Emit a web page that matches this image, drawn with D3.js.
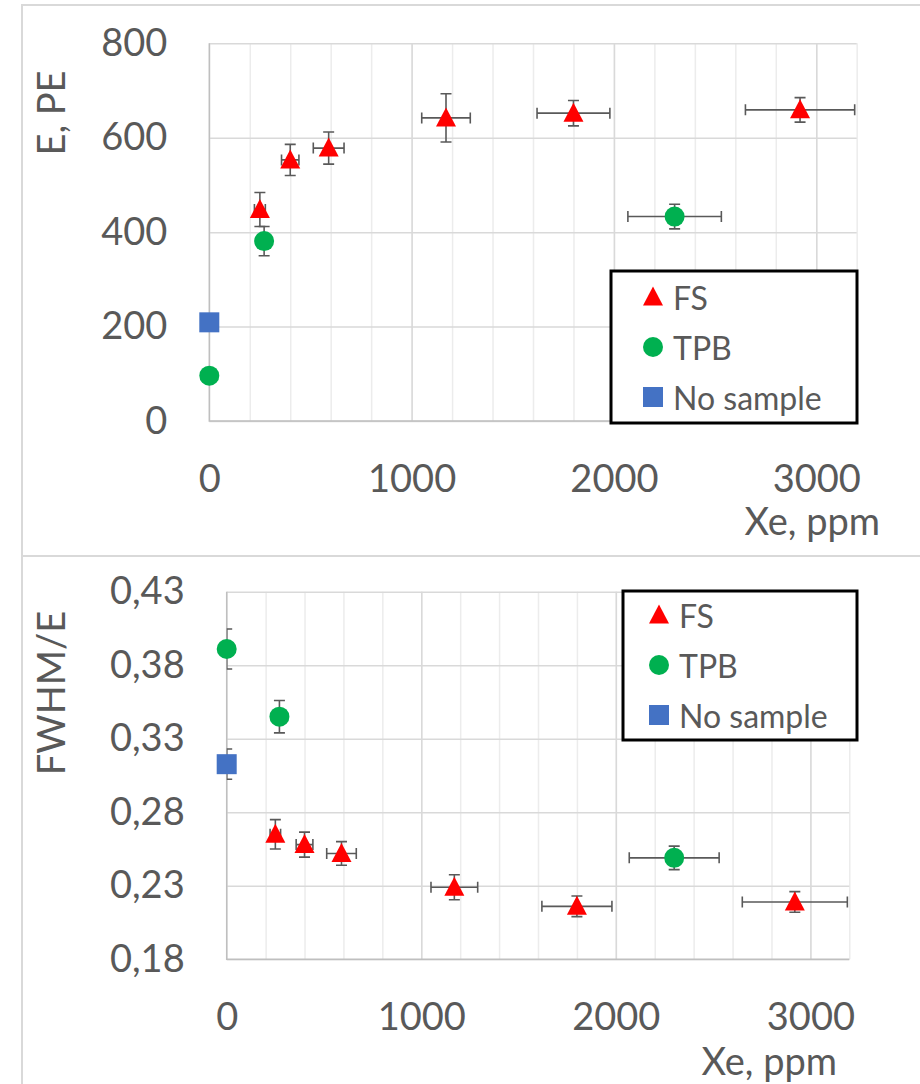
<!DOCTYPE html>
<html>
<head>
<meta charset="utf-8">
<script src="https://cdn.jsdelivr.net/npm/d3@7"></script>
<style>
  body { margin: 0; background: #fff; }
  svg { display: block; font-family: Lato, "Open Sans", sans-serif; }
</style>
</head>
<body>
<div class="viz"></div>
<script>
// data
const fsXe = [250, 400, 590, 1170, 1800, 2920];
const fsXeErr = [27, 43, 76, 120, 180, 270];
const fsE = [448, 553, 578, 642, 652, 659];
const fsEErr = [36, 33, 34, 51, 27, 26];
const fsRes = [0.265, 0.258, 0.252, 0.229, 0.216, 0.219];
const fsResErr = [0.010, 0.0085, 0.008, 0.0085, 0.007, 0.007];

const tpbXe = [0, 271, 2300];
const tpbXeErr = [0, 0, 231];
const tpbE = [96, 381, 433];
const tpbEErr = [0, 31, 26];
const tpbRes = [0.391, 0.345, 0.249];
const tpbResErr = [0.0136, 0.011, 0.008];

const noneXe = [0];
const noneE = [209];
const noneEErr = [0];
const noneRes = [0.3127];
const noneResErr = [0.0103];

const xTicks = [0, 1000, 2000, 3000];
const xMinor = d3.range(0, 3201, 200);
const eTicks = [0, 200, 400, 600, 800];
const resTicks = [0.18, 0.23, 0.28, 0.33, 0.38, 0.43];

const seriesNames = ["FS", "TPB", "No sample"];
const seriesColors = ["#ff0000", "#00b050", "#4472c4"];

const W = 920, H = 1084;
const textColor = "#595959";
const comma = d3.formatLocale({decimal: ",", thousands: " ", grouping: [3], currency: ["", ""]});

const svg = d3.select(".viz").append("svg")
    .attr("width", W)
    .attr("height", H);

// outer chart frames
svg.append("path")
    .attr("d", "M22,1084 V5 H920 M22,556 H920")
    .attr("fill", "none")
    .attr("stroke", "#d9d9d9")
    .attr("stroke-width", 2);

function marker(g, kind, color) {
    if (kind === 0) {
        g.append("path").attr("d", "M0,-10.5 L10,8.5 L-10,8.5 Z").attr("fill", color);
    } else if (kind === 1) {
        g.append("circle").attr("r", 10).attr("fill", color);
    } else {
        g.append("rect").attr("x", -10).attr("y", -10).attr("width", 20).attr("height", 20).attr("fill", color);
    }
}

function drawPanel(opt) {
    const {left, right, top, bottom, yDomain, yTicks, yFmt, series, yTitle, yTitleY, xTitleX, xTitleY, legend, id} = opt;
    const x = d3.scaleLinear().domain([0, 3200]).range([left, right]);
    const y = d3.scaleLinear().domain(yDomain).range([bottom, top]);
    const g = svg.append("g");

    // minor vertical grid
    g.append("g")
        .attr("transform", `translate(0,${bottom})`)
        .call(d3.axisBottom(x).tickValues(xMinor).tickSize(-(bottom - top)).tickFormat(""))
        .call(s => s.select(".domain").remove())
        .call(s => s.selectAll("line").attr("stroke", "#ececec").attr("stroke-width", 1.5));
    // major vertical grid
    g.append("g")
        .attr("transform", `translate(0,${bottom})`)
        .call(d3.axisBottom(x).tickValues(xTicks.slice(1)).tickSize(-(bottom - top)).tickFormat(""))
        .call(s => s.select(".domain").remove())
        .call(s => s.selectAll("line").attr("stroke", "#d9d9d9").attr("stroke-width", 1.5));
    // horizontal grid
    g.append("g")
        .attr("transform", `translate(${left},0)`)
        .call(d3.axisLeft(y).tickValues(yTicks).tickSize(-(right - left)).tickFormat(""))
        .call(s => s.select(".domain").remove())
        .call(s => s.selectAll("line").attr("stroke", "#d9d9d9").attr("stroke-width", 1.5));
    // axis lines
    g.append("path")
        .attr("d", `M${left},${top} V${bottom} H${right}`)
        .attr("fill", "none")
        .attr("stroke", "#bfbfbf")
        .attr("stroke-width", 1.5);

    // tick labels
    g.append("g")
        .attr("transform", `translate(${left},0)`)
        .call(d3.axisLeft(y).tickValues(yTicks).tickSize(0).tickPadding(42).tickFormat(yFmt))
        .call(s => s.select(".domain").remove())
        .call(s => s.selectAll("text").attr("fill", textColor).style("font-size", "38px").style("font-family", "Lato, sans-serif"));
    g.append("g")
        .attr("transform", `translate(0,${bottom})`)
        .call(d3.axisBottom(x).tickValues(xTicks).tickSize(0).tickPadding(44).tickFormat(d3.format("d")))
        .call(s => s.select(".domain").remove())
        .call(s => s.selectAll("text").attr("fill", textColor).style("font-size", "38px").style("font-family", "Lato, sans-serif"));

    // titles
    g.append("text")
        .attr("transform", `translate(65,${yTitleY}) rotate(-90)`)
        .attr("text-anchor", "middle")
        .attr("fill", textColor)
        .style("font-size", "38px")
        .text(yTitle);
    g.append("text")
        .attr("x", xTitleX).attr("y", xTitleY)
        .attr("text-anchor", "end")
        .attr("fill", textColor)
        .style("font-size", "38px")
        .text("Xe, ppm");

    // error bars, clipped to the plot area
    svg.append("clipPath").attr("id", id)
        .append("rect").attr("x", left).attr("y", top).attr("width", right - left).attr("height", bottom - top);
    const eb = g.append("g").attr("clip-path", `url(#${id})`)
        .attr("stroke", "#595959").attr("stroke-width", 1.6).attr("fill", "none");
    series.forEach(s => {
        s.xs.forEach((xv, i) => {
            const px = x(xv), py = y(s.ys[i]);
            if (s.yerr[i] > 0) {
                const y1 = y(s.ys[i] + s.yerr[i]), y2 = y(s.ys[i] - s.yerr[i]);
                eb.append("path").attr("d", `M${px},${y1} V${y2} M${px - 5.5},${y1} H${px + 5.5} M${px - 5.5},${y2} H${px + 5.5}`);
            }
            if (s.xerr[i] > 0) {
                const x1 = x(xv - s.xerr[i]), x2 = x(xv + s.xerr[i]);
                eb.append("path").attr("d", `M${x1},${py} H${x2} M${x1},${py - 5.5} V${py + 5.5} M${x2},${py - 5.5} V${py + 5.5}`);
            }
        });
    });

    // markers
    series.forEach(s => {
        s.xs.forEach((xv, i) => {
            const m = g.append("g").attr("transform", `translate(${x(xv)},${y(s.ys[i])})`);
            marker(m, s.kind, s.color);
        });
    });

    // legend
    const lg = g.append("g");
    lg.append("rect")
        .attr("x", legend.x).attr("y", legend.y)
        .attr("width", legend.w).attr("height", legend.h)
        .attr("fill", "#fff").attr("stroke", "#000").attr("stroke-width", 3);
    seriesNames.forEach((name, i) => {
        const cy = legend.row0 + i * 50;
        const m = lg.append("g").attr("transform", `translate(${legend.mx},${cy})`);
        marker(m, i, seriesColors[i]);
        lg.append("text")
            .attr("x", legend.mx + 20).attr("y", cy + 13)
            .attr("fill", textColor)
            .style("font-size", "32px")
            .text(name);
    });
}

drawPanel({
    id: "clipTop",
    left: 209.3, right: 856.7, top: 43.3, bottom: 421,
    yDomain: [0, 800], yTicks: eTicks, yFmt: d3.format("d"),
    yTitle: "E, PE", yTitleY: 113,
    xTitleX: 880, xTitleY: 535,
    legend: {x: 611, y: 271, w: 246, h: 152, mx: 653, row0: 297},
    series: [
        {xs: fsXe, ys: fsE, xerr: fsXeErr, yerr: fsEErr, kind: 0, color: seriesColors[0]},
        {xs: tpbXe, ys: tpbE, xerr: tpbXeErr, yerr: tpbEErr, kind: 1, color: seriesColors[1]},
        {xs: noneXe, ys: noneE, xerr: [0], yerr: noneEErr, kind: 2, color: seriesColors[2]}
    ]
});

drawPanel({
    id: "clipBottom",
    left: 226.7, right: 849.3, top: 591.7, bottom: 959.3,
    yDomain: [0.18, 0.43], yTicks: resTicks, yFmt: comma.format(".2f"),
    yTitle: "FWHM/E", yTitleY: 693,
    xTitleX: 837, xTitleY: 1075,
    legend: {x: 623, y: 591, w: 234, h: 149, mx: 659, row0: 615},
    series: [
        {xs: fsXe, ys: fsRes, xerr: fsXeErr, yerr: fsResErr, kind: 0, color: seriesColors[0]},
        {xs: tpbXe, ys: tpbRes, xerr: tpbXeErr, yerr: tpbResErr, kind: 1, color: seriesColors[1]},
        {xs: noneXe, ys: noneRes, xerr: [0], yerr: noneResErr, kind: 2, color: seriesColors[2]}
    ]
});
</script>
</body>
</html>
